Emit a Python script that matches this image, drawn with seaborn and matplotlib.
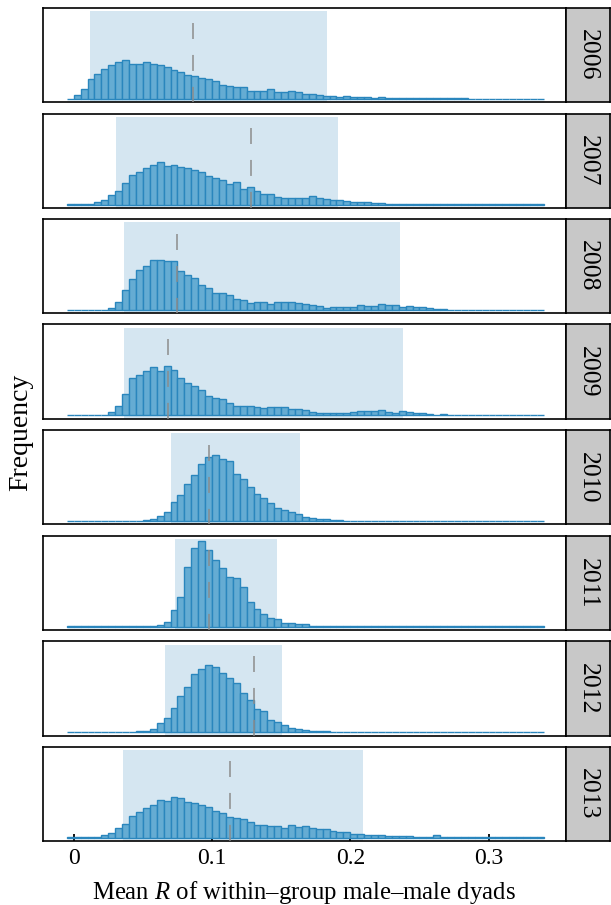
import numpy as np
import pandas as pd
import matplotlib
matplotlib.use("Agg")
import matplotlib.pyplot as plt
import seaborn as sns

# ---------------- data ----------------
years = ["2006", "2007", "2008", "2009", "2010", "2011", "2012", "2013"]
bin_start = -0.005
bin_width = 0.005
n_bins = 69

h2006 = [0.3, 4.2, 11, 22.5, 28.6, 34.7, 38.9, 42, 45, 40, 40, 42, 40, 39, 37, 32.8, 30.5, 27, 26.7, 23.7,
         22.5, 20.6, 15.6, 15.3, 13.4, 13.4, 8.8, 9.2, 8.8, 11, 7.6, 8, 8.8, 8, 5.7, 5.7, 4.2, 3, 3, 2.7,
         3.8, 2.7, 1.9, 1.9, 1.5, 1.9, 1.1, 0.8, 0.8, 0.8, 0.8, 0.8, 0.8, 0.8, 0.6, 0.6, 0.6, 1.5, 0.5, 0.3,
         0.3, 0.3, 0.3, 0.3, 0.3, 0.3, 0.3, 0.3, 0.3]
h2007 = [0.3, 0.5, 0.8, 1.1, 3, 5.7, 10.3, 15.3, 24.4, 33.6, 37, 41.6, 45, 48, 44.3, 45, 43, 41.6, 39.3, 37,
         32.8, 30, 28.2, 23.3, 25.6, 17.6, 19.8, 15.3, 11.5, 11.5, 8.4, 7.6, 7.3, 7.3, 7.3, 9.2, 7.6, 6.5, 5, 5,
         3.8, 2.7, 2.7, 2.7, 1.5, 1.5, 1.1, 1.1, 0.8, 0.8, 0.8, 0.6, 0.6, 0.5, 0.5, 0.3, 0.3, 0.3, 0.3, 0.3,
         0.3, 0.3, 0.3, 0.3, 0.3, 0.3, 0.3, 0.3, 0.3]
h2008 = [0.3, 0.3, 0.3, 0.3, 0.3, 0.3, 2.7, 8.8, 23.4, 35.6, 46, 50.2, 57, 57, 55.6, 56, 44.4, 39.8, 36.4, 29,
         25.3, 19.2, 19.2, 17.2, 12.6, 11.9, 8.4, 8.8, 8.8, 7.3, 8.8, 9.6, 8.8, 8, 7.3, 6.1, 5, 1.9, 3, 3,
         3, 3.4, 5.4, 4.6, 4.6, 6.5, 5.4, 5.4, 3.8, 4.2, 3, 3, 1.9, 1.5, 0.8, 0.5, 0.5, 0.4, 0.3, 0.3,
         0.3, 0.3, 0.3, 0.3, 0.3, 0.3, 0.3, 0.3, 0.3]
h2009 = [0.3, 0.3, 0.3, 0.3, 0.3, 0.3, 3.8, 10.3, 24.5, 42.5, 46.4, 50.6, 55.6, 51.3, 57, 52, 42.9, 36.8, 33.7, 29.1,
         21.8, 19.9, 18.4, 14.6, 10.7, 10.7, 10.3, 9.6, 8.4, 9.6, 9.2, 9.2, 6.9, 7.7, 6.1, 3.8, 3.4, 2.7, 2.7, 2.7,
         3, 4.2, 4.6, 5.7, 5, 6.1, 3.8, 3, 5, 3.8, 2.7, 2.7, 1.5, 1.1, 1.5, 1.1, 1.1, 0.8, 0.3, 0.3,
         0.3, 0.3, 0.3, 0.3, 0.3, 0.3, 0.3, 0.3, 0.3]
h2010 = [0.3, 0.3, 0.3, 0.3, 0.3, 0.3, 0.3, 0.3, 0.3, 0.3, 0.5, 1.1, 1.9, 5.7, 10.7, 22.2, 29.9, 42.1, 52.5, 65.5,
         73.6, 75.9, 71.3, 68.2, 53.6, 47.5, 38.3, 30.7, 26.8, 20.7, 14.6, 13, 10, 7.7, 4.2, 3.4, 2.7, 1.9, 1.1, 0.8,
         0.5, 0.5, 0.5, 0.5, 0.5, 0.5, 0.5, 0.5, 0.5, 0.3, 0.3, 0.3, 0.3, 0.3, 0.3, 0.3, 0.3, 0.3, 0.3, 0.3,
         0.3, 0.3, 0.3, 0.3, 0.3, 0.3, 0.3, 0.3, 0.3]
h2011 = [0.3, 0.3, 0.3, 0.3, 0.3, 0.3, 0.3, 0.3, 0.3, 0.3, 0.3, 0.3, 0.3, 1.5, 5, 19.2, 33.8, 68.5, 89.6, 98,
         88, 76.5, 66.5, 56.5, 55, 45.4, 28, 20.4, 14.2, 9.2, 8.5, 3.5, 3.8, 2.7, 2.7, 0.8, 1.1, 0.5, 0.3, 0.3,
         0.3, 0.3, 0.3, 0.3, 0.3, 0.3, 0.3, 0.3, 0.3, 0.3, 0.3, 0.3, 0.3, 0.3, 0.3, 0.3, 0.3, 0.3, 0.3, 0.3,
         0.3, 0.3, 0.3, 0.3, 0.3, 0.3, 0.3, 0.3, 0.3]
h2012 = [0.3, 0.3, 0.3, 0.3, 0.3, 0.3, 0.3, 0.3, 0.3, 0.3, 0.8, 1.5, 3.8, 10, 16.5, 27.3, 41.2, 51.2, 65.8, 71.5,
         76.5, 74.2, 67.3, 62, 56.5, 44.2, 37, 25.8, 23.5, 14.2, 11.5, 8.5, 5, 3.5, 2.3, 1.5, 1.1, 0.8, 0.3, 0.3,
         0.3, 0.3, 0.3, 0.3, 0.3, 0.3, 0.3, 0.3, 0.3, 0.3, 0.3, 0.3, 0.3, 0.3, 0.3, 0.3, 0.3, 0.3, 0.3, 0.3,
         0.3, 0.3, 0.3, 0.3, 0.3, 0.3, 0.3, 0.3, 0.3]
h2013 = [0.4, 0.4, 0.4, 0.4, 1.1, 2.3, 4.6, 10.3, 15.6, 24.4, 29.4, 33.2, 36.6, 42.4, 41.2, 45.8, 44.7, 40.5, 40, 36.6,
         34.4, 30.5, 27.5, 23.7, 21.8, 20.6, 17.2, 14.1, 14.1, 13.4, 13.4, 11, 14.5, 12.2, 13, 10.3, 9.5, 9.2, 6.9, 6.5,
         6.5, 4.2, 4.2, 3.4, 2.7, 3, 1.9, 1.5, 1.5, 1.5, 1.1, 1.1, 1.1, 2.3, 1.1, 1.1, 0.8, 0.6, 0.6, 0.6,
         0.6, 0.6, 0.6, 0.6, 0.6, 0.6, 0.6, 0.6, 0.6]
heights = [h2006, h2007, h2008, h2009, h2010, h2011, h2012, h2013]

# means (dashed lines) and credible intervals (shaded)
means = [0.086, 0.1283, 0.0745, 0.0681, 0.0975, 0.0975, 0.1305, 0.1127]
ci_low = [0.0118, 0.0309, 0.0367, 0.0365, 0.0705, 0.0735, 0.0661, 0.0358]
ci_high = [0.1835, 0.1910, 0.2359, 0.2383, 0.1638, 0.1470, 0.1509, 0.2089]

xticks = [0, 0.1, 0.2, 0.3]
xticklabels = ["0", "0.1", "0.2", "0.3"]
xlabel = "Mean $R$ of within\u2013group male\u2013male dyads"
ylabel = "Frequency"

# ---------------- style ----------------
sns.set_theme(style="white")
plt.rcParams["font.family"] = ["Liberation Serif", "DejaVu Serif"]
plt.rcParams["mathtext.fontset"] = "custom"
plt.rcParams["mathtext.rm"] = "Liberation Serif"
plt.rcParams["mathtext.it"] = "Liberation Serif:italic"
plt.rcParams["lines.scale_dashes"] = False

W, H = 611, 905
fig = plt.figure(figsize=(W / 100, H / 100), dpi=100)

left_px, right_px, strip_right_px = 42.5, 566.0, 610.0
top0, step, ph = 8.0, 105.5, 94.5
ymin, ymax = -4.0, 104.0
rect_top = 100.0
dash_top = 87.0

edges = [round(bin_start + bin_width * i, 4) for i in range(n_bins + 1)]
centers = [round(e + bin_width / 2, 5) for e in edges[:-1]]

fill_c = "#65acd3"
edge_c = "#2a86bd"
shade_c = "#d5e6f1"

for k, yr in enumerate(years):
    top = top0 + step * k
    b = 1 - (top + ph) / H
    ax = fig.add_axes([left_px / W, b, (right_px - left_px) / W, ph / H])
    ax.fill_between([ci_low[k], ci_high[k]], ymin, rect_top, color=shade_c, lw=0, zorder=0)
    df = pd.DataFrame({"r": centers, "h": heights[k]})
    sns.histplot(data=df, x="r", weights="h", bins=edges, ax=ax, stat="count",
                 color=fill_c, edgecolor=edge_c, linewidth=1.0, alpha=1.0, zorder=2)
    ax.plot([means[k], means[k]], [dash_top, ymin], color="#8c8c8c", lw=1.1,
            dashes=(11.5, 11.5), zorder=3)
    ax.set_xlim(-0.0226, 0.356)
    ax.set_ylim(ymin, ymax)
    ax.set_xlabel("")
    ax.set_ylabel("")
    ax.set_yticks([])
    for s in ax.spines.values():
        s.set_visible(True)
        s.set_color("black")
        s.set_linewidth(1.2)
    if k == len(years) - 1:
        ax.set_xticks(xticks)
        ax.set_xticklabels(xticklabels)
        ax.tick_params(axis="x", direction="in", length=5, width=1.3, color="black",
                       labelsize=17, pad=5, labelcolor="black", bottom=True)
    else:
        ax.set_xticks([])
    # strip
    sax = fig.add_axes([right_px / W, b, (strip_right_px - right_px) / W, ph / H])
    sax.set_facecolor("#c8c8c8")
    sax.set_xticks([])
    sax.set_yticks([])
    for s in sax.spines.values():
        s.set_visible(True)
        s.set_color("black")
        s.set_linewidth(1.2)
    sax.text(0.5, 0.5, yr, rotation=270, ha="center", va="center",
             fontsize=18.5, color="black", transform=sax.transAxes)

fig.text(21 / W, 1 - 432 / H, ylabel, rotation=90, ha="center", va="center",
         fontsize=20, color="black")
fig.text((left_px + right_px) / 2 / W, 1 - 892 / H, xlabel, ha="center", va="center",
         fontsize=17.8, color="black")

fig.savefig("out.png", dpi=100)
